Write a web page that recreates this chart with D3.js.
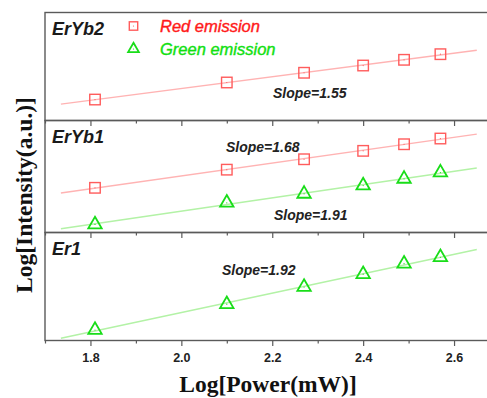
<!DOCTYPE html>
<html>
<head>
<meta charset="utf-8">
<script src="https://cdn.jsdelivr.net/npm/d3@7/dist/d3.min.js"></script>
<style>
  html, body { margin: 0; padding: 0; background: #fff; overflow: hidden; }
  svg { display: block; }
</style>
</head>
<body>
<div id="chart"></div>
<script>
// Log[Power(mW)] of each measurement
const powerLog = [1.81, 2.10, 2.27, 2.40, 2.49, 2.57];

// Log intensity (a.u.) per panel (panel-relative units 0..10)
const erYb2Red = [1.94, 3.52, 4.42, 5.09, 5.62, 6.14];
const erYb1Red = [3.99, 5.61, 6.54, 7.29, 7.88, 8.39];
const erYb1Green = [0.72, 2.65, 3.45, 4.19, 4.79, 5.35];
const er1Green = [0.97, 3.36, 4.95, 6.14, 7.11, 7.71];

const panelNames = ['ErYb2', 'ErYb1', 'Er1'];
const slopeLabels = ['Slope=1.55', 'Slope=1.68', 'Slope=1.91', 'Slope=1.92'];
const xTicks = [1.8, 2.0, 2.2, 2.4, 2.6];
const xMinorTicks = [1.7, 1.9, 2.1, 2.3, 2.5, 2.7];
const fitRange = [1.735, 2.65];

const width = 487, height = 398;
const margin = { left: 45, right: -12.5, top: 12.5 };
const panelHeights = [108, 112, 108];

const RED = '#ff5c5c', RED_LINE = '#ffb3b3';
const GREEN = '#19dd19', GREEN_LINE = '#b3f2a6';

const svg = d3.select('#chart').append('svg')
  .attr('width', width)
  .attr('height', height);

const x = d3.scaleLinear().domain([1.7, 2.7]).range([margin.left, width - margin.right]);

// panel tops
const tops = [];
let acc = margin.top;
panelHeights.forEach(h => { tops.push(acc); acc += h; });

const panels = tops.map((t, i) => ({
  top: t,
  bottom: t + panelHeights[i],
  y: d3.scaleLinear().domain([0, 10]).range([t + panelHeights[i], t])
}));

const series = [
  { panel: 0, values: erYb2Red, kind: 'square', slope: 0, lx: 273, ly: 97.5 },
  { panel: 1, values: erYb1Red, kind: 'square', slope: 1, lx: 226, ly: 152 },
  { panel: 1, values: erYb1Green, kind: 'triangle', slope: 2, lx: 274, ly: 220 },
  { panel: 2, values: er1Green, kind: 'triangle', slope: 3, lx: 222, ly: 275 }
];

// least squares fit for each series
function fit(xs, ys) {
  const mx = d3.mean(xs), my = d3.mean(ys);
  let sxy = 0, sxx = 0;
  xs.forEach((v, i) => { sxy += (v - mx) * (ys[i] - my); sxx += (v - mx) * (v - mx); });
  const b = sxy / sxx;
  return v => my + b * (v - mx);
}

const clip = svg.append('defs').append('clipPath').attr('id', 'plotClip');
clip.append('rect')
  .attr('x', margin.left).attr('y', margin.top)
  .attr('width', width - margin.left).attr('height', acc - margin.top);

const plot = svg.append('g').attr('clip-path', 'url(#plotClip)');

// fit lines
series.forEach(s => {
  const p = panels[s.panel];
  const f = fit(powerLog, s.values);
  plot.append('line')
    .attr('x1', x(fitRange[0])).attr('y1', p.y(f(fitRange[0])))
    .attr('x2', x(fitRange[1])).attr('y2', p.y(f(fitRange[1])))
    .attr('stroke', s.kind === 'square' ? RED_LINE : GREEN_LINE)
    .attr('stroke-width', 1.5);
});

function drawMarker(g, kind, cx, cy, scale) {
  const sc = scale || 1;
  if (kind === 'square') {
    const s = 10.5 * sc;
    g.append('rect')
      .attr('x', cx - s / 2).attr('y', cy - s / 2)
      .attr('width', s).attr('height', s)
      .attr('fill', 'none').attr('stroke', RED).attr('stroke-width', 1.4);
    g.append('circle').attr('cx', cx).attr('cy', cy).attr('r', 0.6).attr('fill', RED);
  } else {
    g.append('path')
      .attr('d', d3.symbol().type(d3.symbolTriangle).size(78 * sc * sc)())
      .attr('transform', `translate(${cx},${cy})`)
      .attr('fill', 'none').attr('stroke', GREEN).attr('stroke-width', 1.8);
    g.append('circle').attr('cx', cx).attr('cy', cy).attr('r', 0.6).attr('fill', GREEN);
  }
}

// markers
series.forEach(s => {
  const p = panels[s.panel];
  s.values.forEach((v, i) => drawMarker(plot, s.kind, x(powerLog[i]), p.y(v)));
});

// panel frames and ticks
panels.forEach((p, i) => {
  svg.append('rect')
    .attr('x', margin.left).attr('y', p.top)
    .attr('width', x(2.7) - margin.left).attr('height', p.bottom - p.top)
    .attr('fill', 'none').attr('stroke', '#5a5a5a').attr('stroke-width', 1.4);

  const axis = d3.axisBottom(x).tickValues(xTicks).tickSize(5.5).tickSizeOuter(0)
    .tickFormat(i === panels.length - 1 ? d3.format('.1f') : '');
  const ag = svg.append('g').attr('transform', `translate(0,${p.bottom})`).call(axis);
  ag.select('.domain').remove();
  ag.selectAll('.tick line').attr('stroke', '#5a5a5a').attr('stroke-width', 1.2);
  ag.selectAll('.tick text')
    .attr('dy', '1.05em')
    .style('font-family', '"Liberation Sans", Arial, sans-serif')
    .style('font-weight', 'bold')
    .style('font-size', '12.5px')
    .attr('fill', '#222');

  const minor = d3.axisBottom(x).tickValues(xMinorTicks).tickSize(3).tickFormat('');
  const mg = svg.append('g').attr('transform', `translate(0,${p.bottom})`).call(minor);
  mg.select('.domain').remove();
  mg.selectAll('.tick line').attr('stroke', '#5a5a5a').attr('stroke-width', 1.2);

  svg.append('text')
    .attr('x', 52).attr('y', p.top + 22.5)
    .style('font-family', '"Liberation Sans", Arial, sans-serif')
    .style('font-weight', 'bold').style('font-style', 'italic')
    .style('font-size', '18px')
    .attr('fill', '#1a1a1a')
    .text(panelNames[i]);
});

// slope labels
series.forEach(s => {
  svg.append('text')
    .attr('x', s.lx).attr('y', s.ly)
    .style('font-family', '"Liberation Sans", Arial, sans-serif')
    .style('font-weight', 'bold').style('font-style', 'italic')
    .style('font-size', '14px')
    .attr('fill', '#222')
    .text(slopeLabels[s.slope]);
});

// legend
const legend = svg.append('g');
[
  { kind: 'square', label: 'Red emission', color: '#ff1a1a', y: 26 },
  { kind: 'triangle', label: 'Green emission', color: '#11e011', y: 49 }
].forEach(d => {
  drawMarker(legend, d.kind, 133.5, d.y, 0.8);
  legend.append('text')
    .attr('x', 160).attr('y', d.y + 6)
    .style('font-family', '"Liberation Sans", Arial, sans-serif')
    .style('font-style', 'italic')
    .style('font-size', '16.5px')
    .attr('fill', d.color)
    .attr('stroke', d.color)
    .attr('stroke-width', 0.4)
    .text(d.label);
});

// axis titles
svg.append('text')
  .attr('x', 268).attr('y', 392)
  .attr('text-anchor', 'middle')
  .style('font-family', '"Liberation Serif", "Times New Roman", serif')
  .style('font-weight', 'bold')
  .style('font-size', '23.5px')
  .attr('fill', '#111')
  .text('Log[Power(mW)]');

svg.append('text')
  .attr('transform', 'translate(32,195) rotate(-90)')
  .attr('text-anchor', 'middle')
  .style('font-family', '"Liberation Serif", "Times New Roman", serif')
  .style('font-weight', 'bold')
  .style('font-size', '23.5px')
  .attr('fill', '#111')
  .text('Log[Intensity(a.u.)]');
</script>
</body>
</html>
